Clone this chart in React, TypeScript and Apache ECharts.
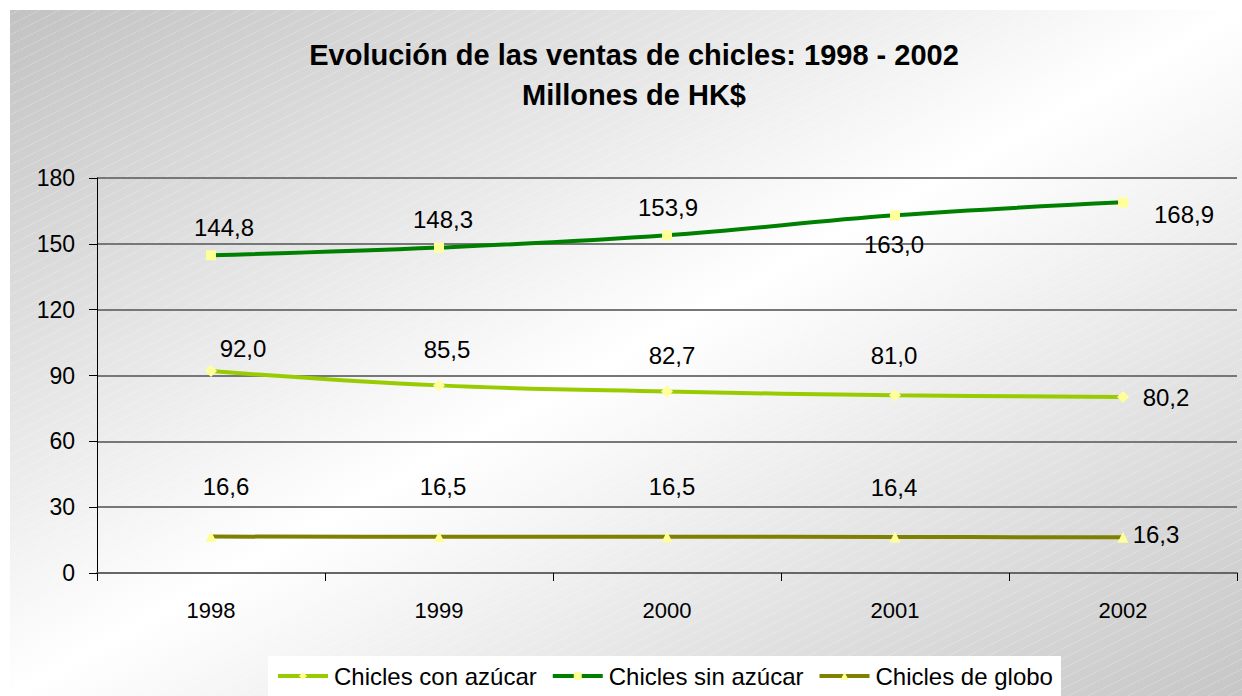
import React, { useEffect, useRef } from "react";
import * as echarts from "echarts";

const TITLE = "Evolución de las ventas de chicles: 1998 - 2002";
const SUBTITLE = "Millones de HK$";
const YEARS = ["1998", "1999", "2000", "2001", "2002"];
const SERIES_NAMES = ["Chicles con azúcar", "Chicles sin azúcar", "Chicles de globo"];
const CON_AZUCAR = [92.0, 85.5, 82.7, 81.0, 80.2];
const SIN_AZUCAR = [144.8, 148.3, 153.9, 163.0, 168.9];
const GLOBO = [16.6, 16.5, 16.5, 16.4, 16.3];
const Y_TICKS = { min: 0, max: 180, interval: 30 };

// label offsets (style only) relative to each point
const OFF_CON = [[32, -23], [8, -36], [5, -36], [-1, -40], [43, 0]];
const OFF_SIN = [[13, -28], [4, -28], [1, -28], [-1, 29], [61, 12]];
const OFF_GLOBO = [[15, -50], [4, -50], [5, -50], [-1, -50], [33, -3]];

const FONT = 'Arial, "Liberation Sans", sans-serif';

function makePattern(): string {
  const c = document.createElement("canvas");
  c.width = 20;
  c.height = 10;
  const ctx = c.getContext("2d");
  if (ctx) {
    ctx.strokeStyle = "rgba(255,255,255,0.45)";
    ctx.lineWidth = 0.8;
    ctx.setLineDash([2, 1]);
    ctx.beginPath();
    ctx.moveTo(-2, 11);
    ctx.lineTo(22, -1);
    ctx.stroke();
  }
  return c.toDataURL();
}

export default function App() {
  const ref = useRef<HTMLDivElement>(null);
  useEffect(() => {
    document.body.style.margin = "0";
    if (!ref.current) return;
    const chart = echarts.init(ref.current, null, { renderer: "svg" });
    let pattern: string | null = null;
    try {
      pattern = makePattern();
    } catch (e) {
      pattern = null;
    }
    const mkData = (vals: number[], offs: number[][]) =>
      vals.map((v, i) => ({
        value: v,
        label: { offset: offs[i] },
      }));
    const labelBase = {
      show: true,
      position: "inside",
      color: "#000",
      fontSize: 24,
      fontFamily: FONT,
      formatter: (p: any) => p.value.toFixed(1).replace(".", ","),
    };
    const graphics: any[] = [
      {
        type: "rect",
        z: -10,
        silent: true,
        shape: { x: 10, y: 10, width: 1232, height: 686 },
        style: {
          fill: new echarts.graphic.LinearGradient(0, 0, 1, 1, [
            { offset: 0, color: "#c2c2c2" },
            { offset: 0.5, color: "#ffffff" },
            { offset: 1, color: "#c6c6c6" },
          ]),
        },
      },
    ];
    if (pattern) {
      graphics.push({
        type: "rect",
        z: -9,
        silent: true,
        shape: { x: 10, y: 10, width: 1232, height: 686 },
        style: { fill: { image: pattern, repeat: "repeat" } },
      });
    }
    chart.setOption({
      animation: false,
      textStyle: { fontFamily: FONT },
      title: {
        text: TITLE + "\n" + SUBTITLE,
        left: 629,
        top: 30,
        textAlign: "center",
        textStyle: {
          fontSize: 29,
          fontWeight: "bold",
          color: "#000",
          lineHeight: 40,
          fontFamily: FONT,
        },
      },
      graphic: graphics,
      legend: {
        left: 268,
        top: 656,
        backgroundColor: "#ffffff",
        padding: [8, 8, 14, 8],
        itemWidth: 50,
        itemHeight: 10,
        itemGap: 14,
        lineStyle: { width: 4 },
        textStyle: { fontSize: 24, color: "#000", fontFamily: FONT, padding: [0, 0, 0, 1] },
        data: SERIES_NAMES,
      },
      grid: { left: 97, top: 178, width: 1140, height: 395, containLabel: false },
      xAxis: {
        type: "category",
        data: YEARS,
        boundaryGap: true,
        axisLine: { lineStyle: { color: "#666", width: 2 } },
        axisTick: { show: true, length: 8, interval: 0, lineStyle: { color: "#000", width: 1 } },
        axisLabel: { color: "#000", fontSize: 22, margin: 26, fontFamily: FONT },
      },
      yAxis: {
        type: "value",
        min: Y_TICKS.min,
        max: Y_TICKS.max,
        interval: Y_TICKS.interval,
        axisLine: { show: true, lineStyle: { color: "#000", width: 1 } },
        axisTick: { show: true, length: 8, lineStyle: { color: "#000" } },
        axisLabel: { color: "#000", fontSize: 23, margin: 22, fontFamily: FONT },
        splitLine: { show: true, lineStyle: { color: "#777", width: 2 } },
      },
      series: [
        {
          name: SERIES_NAMES[0],
          type: "line",
          smooth: 0.4,
          data: mkData(CON_AZUCAR, OFF_CON),
          lineStyle: { color: "#99cc00", width: 4 },
          itemStyle: { color: "#ffff99", borderWidth: 0 },
          color: "#99cc00",
          symbol: "diamond",
          symbolSize: 12,
          label: labelBase,
          z: 3,
        },
        {
          name: SERIES_NAMES[1],
          type: "line",
          smooth: 0.4,
          data: mkData(SIN_AZUCAR, OFF_SIN),
          lineStyle: { color: "#008000", width: 4 },
          itemStyle: { color: "#ffff99", borderWidth: 0 },
          color: "#008000",
          symbol: "rect",
          symbolSize: 10,
          label: labelBase,
          z: 3,
        },
        {
          name: SERIES_NAMES[2],
          type: "line",
          smooth: 0.4,
          data: mkData(GLOBO, OFF_GLOBO),
          lineStyle: { color: "#808000", width: 4 },
          itemStyle: { color: "#ffff99", borderWidth: 0 },
          color: "#808000",
          symbol: "triangle",
          symbolSize: 11,
          label: labelBase,
          z: 3,
        },
      ],
    });
    return () => chart.dispose();
  }, []);
  return <div ref={ref} style={{ width: 1242, height: 696 }} />;
}
